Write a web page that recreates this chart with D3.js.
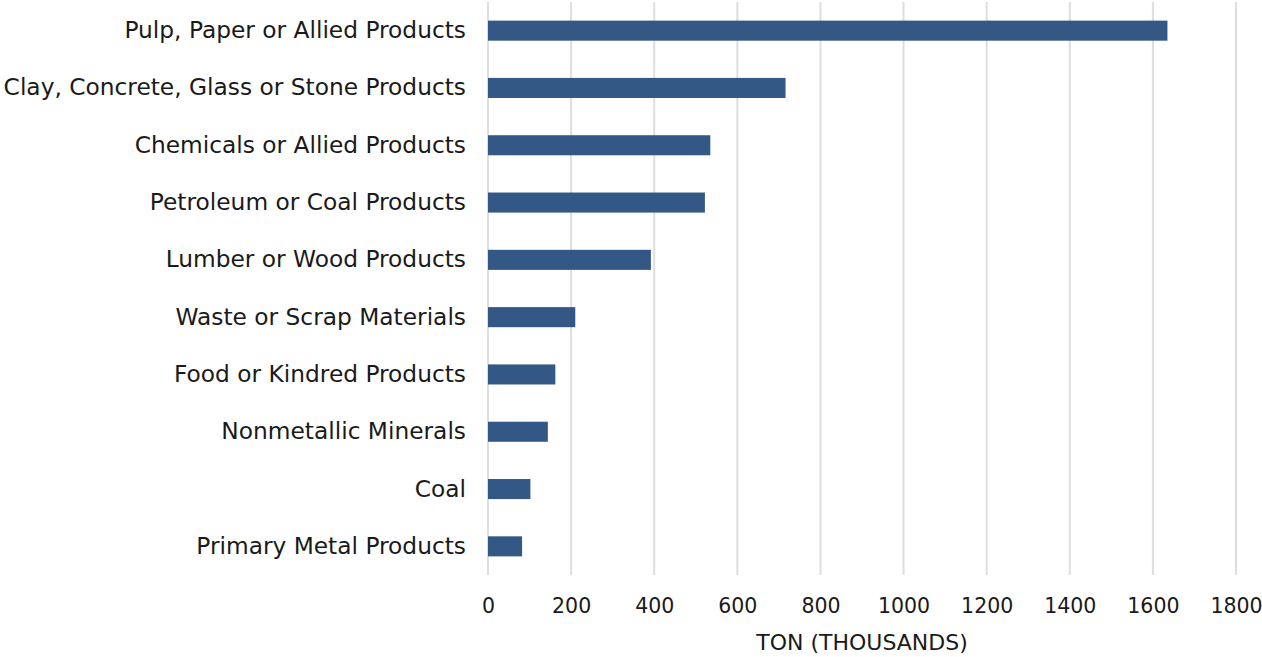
<!DOCTYPE html>
<html>
<head>
<meta charset="utf-8">
<script src="https://cdn.jsdelivr.net/npm/d3@7"></script>
<style>
  html, body { margin: 0; padding: 0; background: #fff; }
  svg { display: block; }
  text { font-family: "DejaVu Sans", sans-serif; fill: #1a1a1a; }
</style>
</head>
<body>
<svg id="chart" width="1262" height="657"></svg>
<script>
// Commodity groups, largest first
const categories = [
  "Pulp, Paper or Allied Products",
  "Clay, Concrete, Glass or Stone Products",
  "Chemicals or Allied Products",
  "Petroleum or Coal Products",
  "Lumber or Wood Products",
  "Waste or Scrap Materials",
  "Food or Kindred Products",
  "Nonmetallic Minerals",
  "Coal",
  "Primary Metal Products"
];
// Tonnage in thousands of tons
const tons = [1635, 716, 535, 522, 392, 210, 162, 144, 102, 82];
const xTicks = [0, 200, 400, 600, 800, 1000, 1200, 1400, 1600, 1800];
const xTitle = "TON (THOUSANDS)";

const svg = d3.select("#chart");
const margin = { top: 2, left: 488, right: 26, bottom: 82 };
const W = 1262, H = 657;

const x = d3.scaleLinear().domain([0, 1800]).range([margin.left, W - margin.right]);
const y = d3.scaleBand().domain(categories).range([margin.top, H - margin.bottom]).paddingInner(0.65).paddingOuter(0.325);

// vertical gridlines
svg.append("g").selectAll("line").data(xTicks).join("line")
  .attr("x1", d => x(d)).attr("x2", d => x(d))
  .attr("y1", margin.top).attr("y2", H - margin.bottom)
  .attr("stroke", "#dedede").attr("stroke-width", 2);

// bars
svg.append("g").selectAll("rect").data(categories).join("rect")
  .attr("x", x(0))
  .attr("y", d => y(d))
  .attr("width", (d, i) => x(tons[i]) - x(0))
  .attr("height", y.bandwidth())
  .attr("fill", "#335886");

// category labels
const yAxis = svg.append("g")
  .attr("transform", `translate(${x(0)},0)`)
  .call(d3.axisLeft(y).tickSize(0).tickPadding(22));
yAxis.select(".domain").remove();
yAxis.selectAll("text").attr("font-size", 23.3).attr("font-family", "DejaVu Sans").attr("fill", "#1a1a1a");

// value axis
const xAxis = svg.append("g")
  .attr("transform", `translate(0,${H - margin.bottom})`)
  .call(d3.axisBottom(x).tickValues(xTicks).tickSize(0).tickPadding(23).tickFormat(d3.format("d")));
xAxis.select(".domain").remove();
xAxis.selectAll("text").attr("font-size", 20.5).attr("font-family", "DejaVu Sans").attr("fill", "#1a1a1a");

// axis title
svg.append("text")
  .attr("x", (x(0) + x(1800)) / 2)
  .attr("y", 650)
  .attr("text-anchor", "middle")
  .attr("font-size", 22)
  .text(xTitle);
</script>
</body>
</html>
